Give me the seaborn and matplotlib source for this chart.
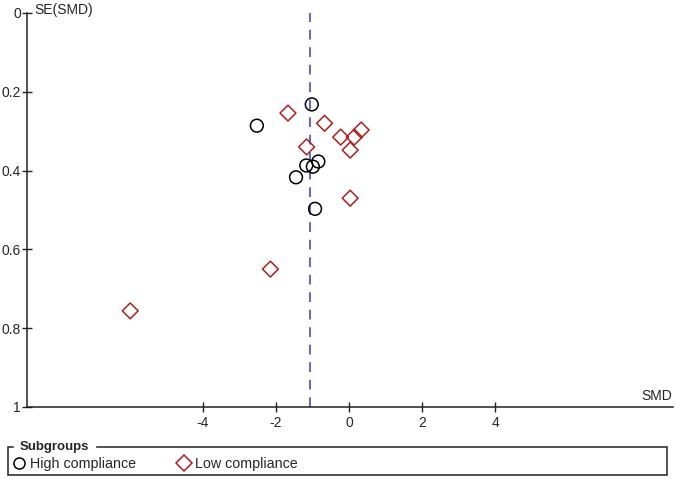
import numpy as np
import pandas as pd
import matplotlib
matplotlib.use("Agg")
import matplotlib.pyplot as plt
import seaborn as sns
from matplotlib.patches import Rectangle
from matplotlib.lines import Line2D

# high compliance studies (circles)
high_smd = [-1.02, -2.52, -1.17, -0.99, -0.84, -1.45, -0.93]
high_se = [0.232, 0.286, 0.387, 0.390, 0.377, 0.417, 0.497]

# low compliance studies (diamonds)
low_smd = [-1.67, -0.67, -0.23, 0.14, 0.33, -1.16, 0.03, 0.03, -5.98, -2.15]
low_se = [0.254, 0.280, 0.315, 0.315, 0.297, 0.340, 0.348, 0.470, 0.756, 0.650]

pooled_smd = -1.07

x_ticks = [-4, -2, 0, 2, 4]
y_ticks = [0, 0.2, 0.4, 0.6, 0.8, 1]
y_ticklabels = ["0", "0.2", "0.4", "0.6", "0.8", "1"]

sns.set_style("white")
plt.rcParams["font.family"] = ["Liberation Sans", "DejaVu Sans"]
plt.rcParams["font.size"] = 10

fig = plt.figure(figsize=(6.75, 4.79), dpi=100)
ax = fig.add_axes([27 / 675, 1 - 407 / 479, 646 / 675, 394 / 479])

red = "#b01e1e"
sns.scatterplot(x=high_smd, y=high_se, marker="o", s=85, facecolor="none",
                edgecolor="black", linewidth=1.1, ax=ax, zorder=3)
sns.scatterplot(x=low_smd, y=low_se, marker="D", s=65, facecolor="none",
                edgecolor=red, linewidth=1.1, ax=ax, zorder=3)

ax.axvline(pooled_smd, color="#6464c8", linestyle=(0, (5, 4)), linewidth=1.4, zorder=1)

ax.set_xlim(-8.8, 8.85)
ax.set_ylim(1, 0)
ax.set_xticks(x_ticks)
ax.set_xticklabels([str(t) for t in x_ticks])
ax.set_yticks(y_ticks)
ax.set_yticklabels(y_ticklabels)
ax.tick_params(direction="inout", length=7, width=1, color="#222222", labelsize=10,
               left=True, bottom=True, pad=1)
ax.tick_params(axis="x", pad=3)

for s in ["top", "right"]:
    ax.spines[s].set_visible(False)
for s in ["left", "bottom"]:
    ax.spines[s].set_color("#222222")
    ax.spines[s].set_linewidth(1.1)

ax.set_xlabel("")
ax.set_ylabel("")
ax.text(0.012, 1.008, "SE(SMD)", transform=ax.transAxes, ha="left", va="center", fontsize=10)
ax.text(0.998, 0.01, "SMD", transform=ax.transAxes, ha="right", va="bottom", fontsize=10)

# legend box with title on the frame line
box = Rectangle((8 / 675, 1 - 475 / 479), 659 / 675, 28 / 479, transform=fig.transFigure,
                fill=False, edgecolor="#222222", linewidth=1.1)
fig.patches.append(box)
fig.text(20 / 675, 1 - 447 / 479, "Subgroups", fontweight="bold", fontsize=9.5,
         ha="left", va="center", backgroundcolor="white")

handles = [
    Line2D([], [], marker="o", linestyle="none", markersize=8, markerfacecolor="none",
           markeredgecolor="black", markeredgewidth=1.1),
    Line2D([], [], marker="D", linestyle="none", markersize=8, markerfacecolor="none",
           markeredgecolor=red, markeredgewidth=1.1),
]
fig.legend(handles, ["High compliance", "Low compliance"], loc="center left",
           bbox_to_anchor=(9 / 675, 1 - 464 / 479), ncol=2, frameon=False,
           handlelength=1.0, handletextpad=0.3, columnspacing=2.8, borderaxespad=0,
           borderpad=0.2, fontsize=10.3)

fig.savefig("out.png", dpi=100)
